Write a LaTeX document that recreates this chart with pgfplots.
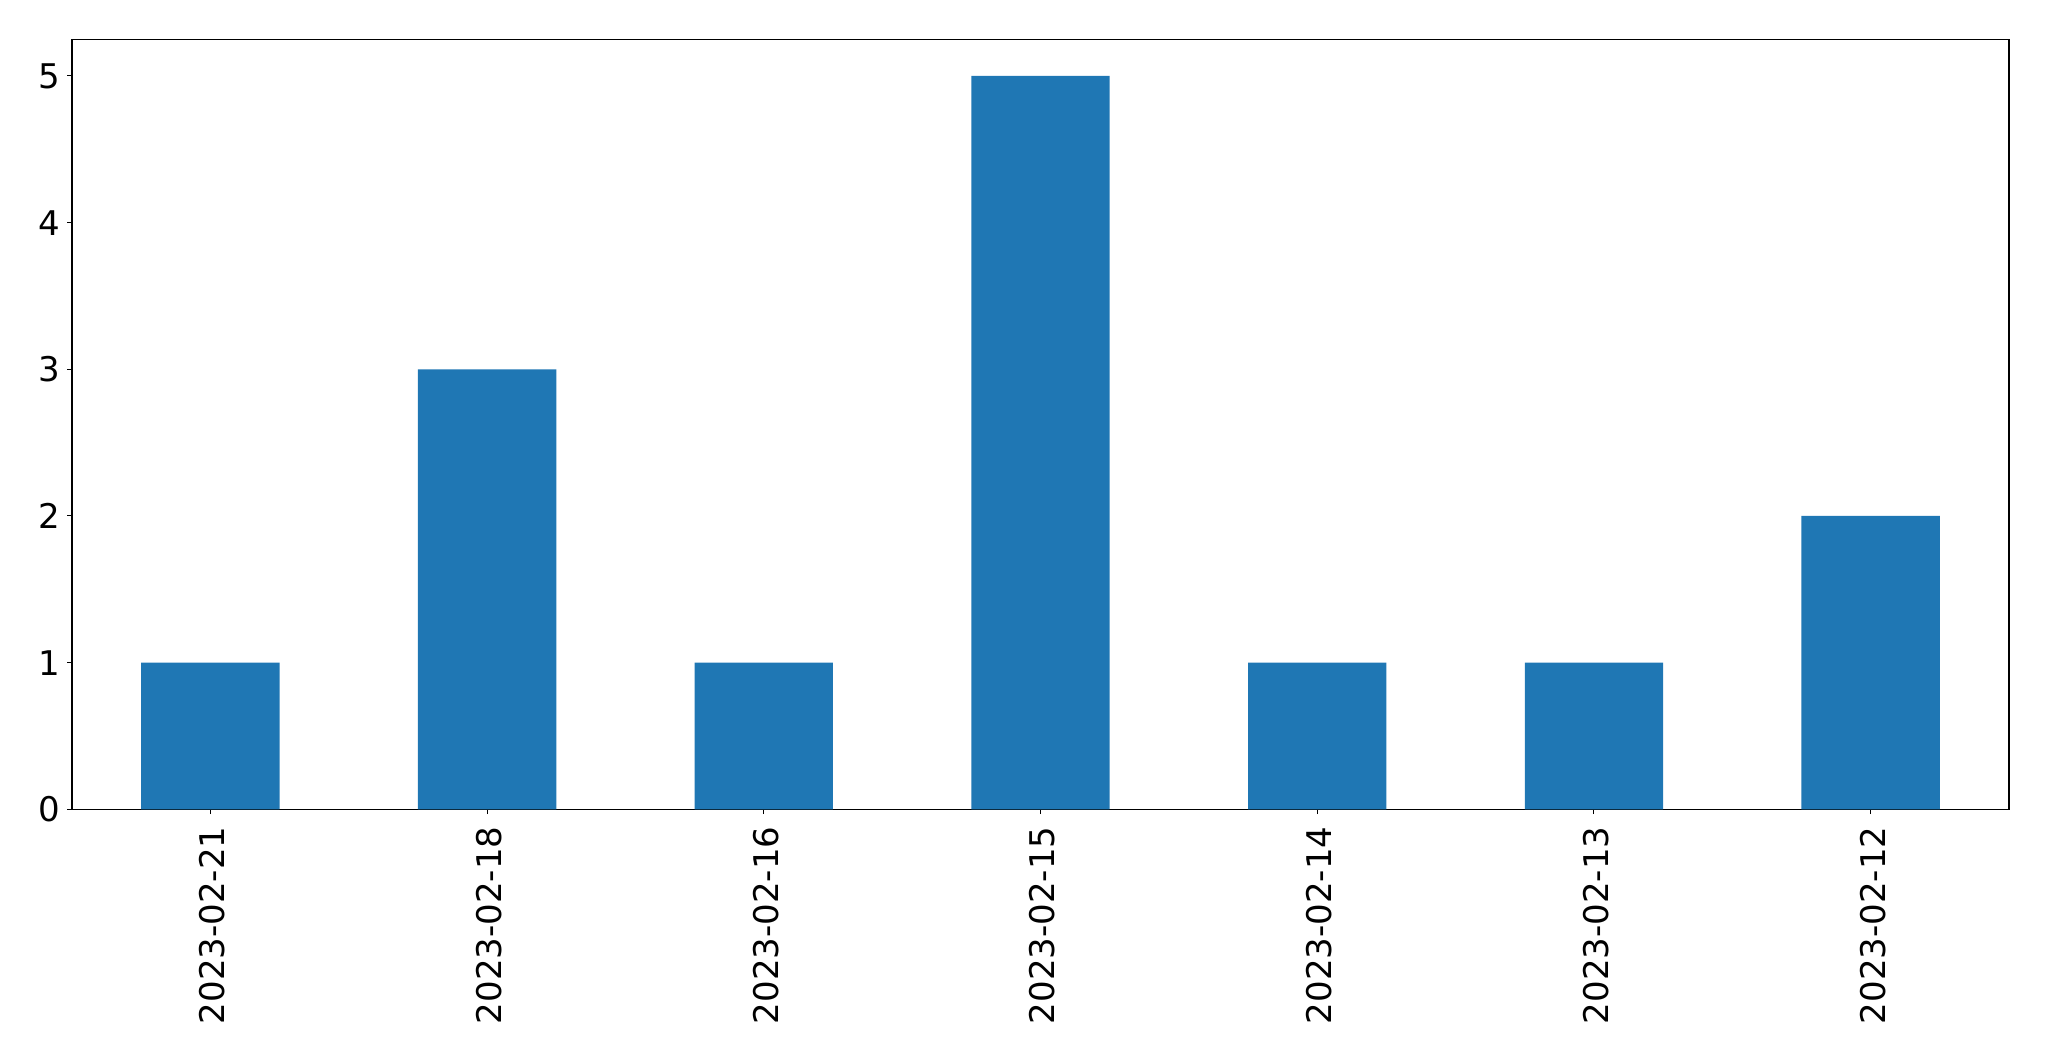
\documentclass[border=0pt]{standalone}
\usepackage{pgfplots}
\pgfplotsset{compat=1.18}
\usepackage{fontspec}
\setmainfont{DejaVu Sans}
\definecolor{mplblue}{HTML}{1F77B4}
\begin{document}
\begin{tikzpicture}
\path[use as bounding box] (-36pt,-126pt) rectangle (988.5pt,404.65pt);
\begin{axis}[
  at={(0,0)}, anchor=south west,
  scale only axis,
  width=968.5pt, height=385pt,
  xmin=-0.5, xmax=6.5,
  ymin=0, ymax=5.25,
  xtick={0,1,2,3,4,5,6},
  xticklabels={2023-02-21,2023-02-18,2023-02-16,2023-02-15,2023-02-14,2023-02-13,2023-02-12},
  ytick={0,1,2,3,4,5},
  tick align=outside,
  tick pos=left,
  major tick length=2.4pt,
  every tick/.style={black, line width=0.5pt},
  axis line style={black, line width=0.7pt},
  /pgf/number format/assume math mode=true,
  tick label style={font=\fontsize{17}{20}\selectfont},
  xticklabel style={rotate=90, anchor=east, xshift=0pt, inner sep=0pt, yshift=-1pt},
  yticklabel style={inner sep=0pt, xshift=-3.5pt},
  xticklabel shift=6pt,
]
\addplot[ybar, bar width=0.5, fill=mplblue, draw=none] coordinates {
  (0,1) (1,3) (2,1) (3,5) (4,1) (5,1) (6,2)
};
\end{axis}
\end{tikzpicture}
\end{document}
